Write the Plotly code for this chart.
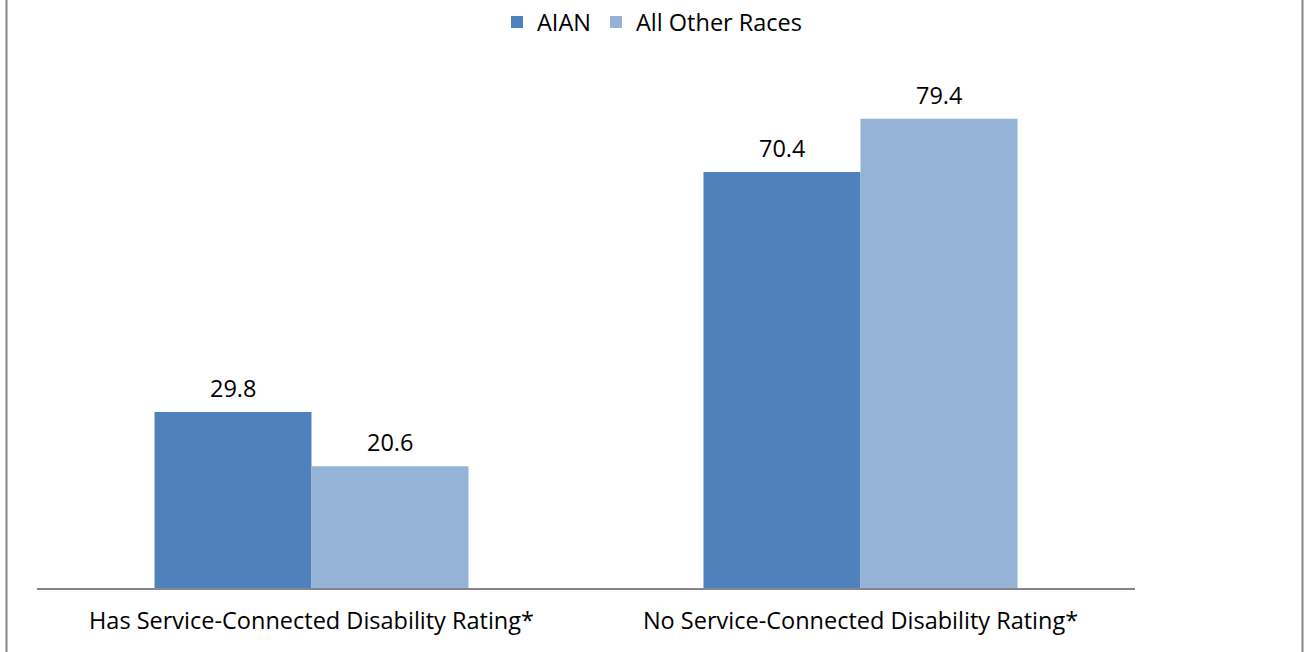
import plotly.graph_objects as go

# Data
categories = ["Has Service-Connected Disability Rating*", "No Service-Connected Disability Rating*"]
aian_values = [29.8, 70.4]
other_values = [20.6, 79.4]
series_names = ["AIAN", "All Other Races"]

AIAN_COLOR = '#4F81BD'
OTHER_COLOR = '#95B3D7'
FONT = 'Open Sans'
SIZE = 23.5

fig = go.Figure()

fig.add_trace(go.Bar(
    x=categories,
    y=aian_values,
    name=series_names[0],
    marker=dict(color=AIAN_COLOR, line=dict(width=0)),
))
fig.add_trace(go.Bar(
    x=categories,
    y=other_values,
    name=series_names[1],
    marker=dict(color=OTHER_COLOR, line=dict(width=0)),
))

# Value labels above bars
for offset, values in ((-1, aian_values), (1, other_values)):
    for cat, val in zip(categories, values):
        fig.add_annotation(
            x=cat, y=val, text=f"{val:.1f}",
            xref='x', yref='y',
            showarrow=False, yanchor='bottom', yshift=6,
            xshift=offset * 78.5,
            font=dict(family=FONT, size=SIZE, color='black'),
        )

# Outer border (left / right edges)
for px in (6.5, 1302.5):
    xp = (px - 37) / 1098
    fig.add_shape(type='line', xref='paper', yref='paper',
                  x0=xp, x1=xp, y0=-0.3, y1=1.3,
                  line=dict(color='#868686', width=2))

fig.update_layout(
    barmode='group',
    bargap=0.428,
    bargroupgap=0,
    width=1304,
    height=652,
    margin=dict(l=37, r=169, t=54, b=64),
    paper_bgcolor='white',
    plot_bgcolor='white',
    font=dict(family=FONT, size=SIZE, color='black'),
    showlegend=True,
    legend=dict(
        orientation='h',
        xref='container', yref='container',
        x=0.5, xanchor='center',
        y=0.966, yanchor='middle',
        font=dict(family=FONT, size=SIZE, color='black'),
        itemwidth=30,
    ),
    xaxis=dict(
        showline=True, linecolor='#868686', linewidth=1.5,
        showgrid=False, ticks='', ticklabelstandoff=11,
        tickfont=dict(family=FONT, size=SIZE, color='black'),
    ),
    yaxis=dict(
        range=[0, 90], visible=False, showgrid=False, zeroline=False,
    ),
)

fig.write_html("out.html", config={'displayModeBar': False},
               post_script="document.body.style.margin='0';")
